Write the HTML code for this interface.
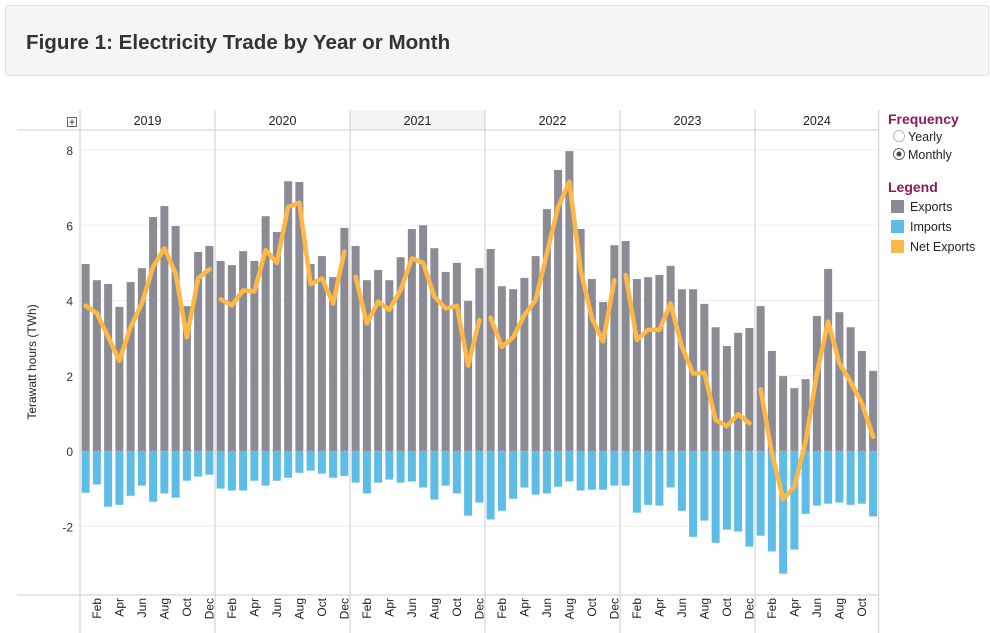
<!DOCTYPE html>
<html><head><meta charset="utf-8">
<style>
body{margin:0;width:990px;height:633px;background:#fff;font-family:"Liberation Sans",Arial,sans-serif;overflow:hidden;position:relative}
.title{position:absolute;left:5px;top:5px;width:984px;height:71px;background:#f5f5f5;border:1px solid #e0e0e0;border-radius:3px;box-sizing:border-box}
.title h1{margin:0;position:absolute;left:20px;top:25px;font-size:20.6px;font-weight:bold;color:#333}
</style></head><body>
<div class="title"><h1>Figure 1: Electricity Trade by Year or Month</h1></div>
<svg id="chart" width="990" height="633" style="position:absolute;left:0;top:0"></svg>
<script>
const years=["2019","2020","2021","2022","2023","2024"];
const monthTicks=["Feb","Apr","Jun","Aug","Oct","Dec"];
const yTicks=[8,6,4,2,0,-2];
const exportsData=[
[4.97,4.54,4.44,3.83,4.49,4.86,6.22,6.51,5.98,3.85,5.29,5.45],
[5.05,4.94,5.31,5.05,6.24,5.82,7.17,7.15,4.97,5.18,4.62,5.93],
[5.45,4.54,4.81,4.54,5.15,5.90,6.00,5.39,4.76,5.00,3.99,4.86],
[5.37,4.38,4.30,4.60,5.18,6.43,7.47,7.97,5.90,4.57,3.96,5.47],
[5.58,4.57,4.62,4.68,4.92,4.30,4.30,3.91,3.29,2.79,3.14,3.27],
[3.85,2.66,1.99,1.67,1.91,3.59,4.84,3.69,3.29,2.66,2.13]];
const importsData=[
[-1.11,-0.89,-1.48,-1.43,-1.19,-0.92,-1.35,-1.13,-1.24,-0.79,-0.68,-0.63],
[-1.00,-1.05,-1.05,-0.79,-0.92,-0.79,-0.71,-0.58,-0.52,-0.60,-0.71,-0.66],
[-0.84,-1.13,-0.84,-0.76,-0.84,-0.81,-0.97,-1.29,-0.92,-1.13,-1.72,-1.37],
[-1.82,-1.59,-1.27,-0.97,-1.16,-1.13,-0.95,-0.81,-1.05,-1.03,-1.03,-0.92],
[-0.92,-1.64,-1.43,-1.45,-0.97,-1.59,-2.28,-1.85,-2.44,-2.09,-2.14,-2.54],
[-2.25,-2.67,-3.26,-2.62,-1.67,-1.45,-1.40,-1.37,-1.43,-1.40,-1.74]];
const netData=[
[3.86,3.66,3.04,2.40,3.30,3.92,4.90,5.39,4.72,3.02,4.59,4.83],
[4.03,3.87,4.27,4.24,5.34,5.00,6.49,6.60,4.43,4.59,3.92,5.30],
[4.63,3.39,3.97,3.75,4.28,5.12,5.00,4.10,3.79,3.86,2.27,3.48],
[3.54,2.77,3.02,3.61,4.01,5.25,6.49,7.16,4.81,3.53,2.91,4.54],
[4.68,2.95,3.22,3.22,3.92,2.77,2.06,2.08,0.82,0.66,0.98,0.74],
[1.64,-0.06,-1.28,-0.95,0.25,2.06,3.44,2.33,1.84,1.27,0.38]];

const svg=document.getElementById('chart');const NS='http://www.w3.org/2000/svg';
function el(t,a,p){const e=document.createElementNS(NS,t);for(const k in a)e.setAttribute(k,a[k]);(p||svg).appendChild(e);return e;}
const X0=80,MW=11.25,PW=135;
const y=v=>451-v*37.625;
const panelX=i=>X0+i*PW;
const xc=(p,m)=>panelX(p)+(m+0.5)*MW;
const right=panelX(5)+11*MW;
let hs=el('rect',{x:panelX(2),y:110,width:PW,height:20,fill:'#f3f3f3'});

yTicks.forEach(t=>{
 if(t!==0){let g=el('line',{x1:X0,x2:right,y1:y(t),y2:y(t),stroke:'#eeeeee','stroke-width':1});
 }
 let tx=el('text',{x:73,y:y(t)+5,'text-anchor':'end','font-size':12,fill:'#333'});tx.textContent=t;
 
});
el('line',{x1:17,x2:right,y1:130,y2:130,stroke:'#ccc'});
el('line',{x1:17,x2:right,y1:595,y2:595,stroke:'#ccc'});
for(let i=0;i<6;i++){el('line',{x1:panelX(i),x2:panelX(i),y1:110,y2:633,stroke:'#ccc'});}
el('line',{x1:right,x2:right,y1:110,y2:633,stroke:'#ccc'});
let pb=el('rect',{x:67.5,y:117.5,width:9,height:9,fill:'#fff',stroke:'#666'});

el('line',{x1:69.5,x2:74.5,y1:122,y2:122,stroke:'#444'});el('line',{x1:72,x2:72,y1:119.5,y2:124.5,stroke:'#444'});
years.forEach((yr,i)=>{const w=i===5?11*MW:PW;
 let t=el('text',{x:panelX(i)+w/2,y:125,'text-anchor':'middle','font-size':12.5,fill:'#222'});t.textContent=yr;
 
 monthTicks.forEach((m,j)=>{const mi=j*2+1;if(mi>=exportsData[i].length)return;
  const cx=xc(i,mi)+4;
  let mt=el('text',{x:0,y:0,'text-anchor':'end','font-size':12,fill:'#222',transform:`translate(${cx},598) rotate(-90)`});mt.textContent=m;
  
 });
});
exportsData.forEach((arr,p)=>arr.forEach((v,m)=>{
 let r=el('rect',{x:xc(p,m)-4,y:y(v),width:8,height:y(0)-y(v),fill:'#8b8b96'});
 
}));
importsData.forEach((arr,p)=>arr.forEach((v,m)=>{
 let r=el('rect',{x:xc(p,m)-4,y:y(0),width:8,height:y(v)-y(0),fill:'#5dbde6'});
 
}));
let z=el('line',{x1:X0,x2:right,y1:y(0),y2:y(0),stroke:'#bbb','stroke-dasharray':'1,2'});

netData.forEach((arr,p)=>{
 let pl=el('polyline',{points:arr.map((v,m)=>xc(p,m)+','+y(v)).join(' '),fill:'none',stroke:'#ffb845','stroke-width':4.5,'stroke-linejoin':'round','stroke-linecap':'round'});
 
});
let yt=el('text',{x:0,y:0,'text-anchor':'middle','font-size':12,fill:'#222',transform:'translate(36,362) rotate(-90)'});yt.textContent='Terawatt hours (TWh)';

const L=888;
let f=el('text',{x:L,y:124,'font-size':14,'font-weight':'bold',fill:'#8a1c5c'});f.textContent='Frequency';

let r1=el('circle',{cx:899,cy:136,r:5.5,fill:'#fff',stroke:'#bbb'});

let t1=el('text',{x:908,y:141,'font-size':12.5,fill:'#222'});t1.textContent='Yearly';

let r2=el('circle',{cx:899,cy:154,r:5.5,fill:'#fff',stroke:'#666'});

el('circle',{cx:899,cy:154,r:2.5,fill:'#444'});
let t2=el('text',{x:908,y:159,'font-size':12.5,fill:'#222'});t2.textContent='Monthly';

let lg=el('text',{x:L,y:192,'font-size':14,'font-weight':'bold',fill:'#8a1c5c'});lg.textContent='Legend';

[['Exports','#8b8b96',200],['Imports','#5dbde6',220],['Net Exports','#ffb845',240]].forEach(([n,c,yy])=>{
 let s=el('rect',{x:891,y:yy,width:13,height:13,fill:c});
 
 let t=el('text',{x:910,y:yy+11,'font-size':12.5,fill:'#222'});t.textContent=n;
 
});
</script>
</body></html>
